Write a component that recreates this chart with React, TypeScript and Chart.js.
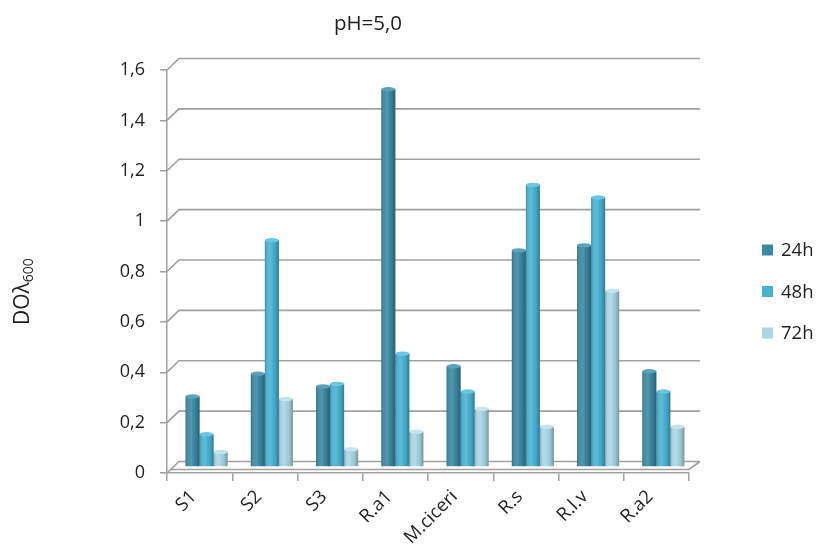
import React, { useEffect, useRef } from 'react';
import { Chart, registerables } from 'chart.js';

Chart.register(...registerables);

// ---- data ----
const categories = ['S1', 'S2', 'S3', 'R.a1', 'M.ciceri', 'R.s', 'R.l.v', 'R.a2'];
const series24h = [0.28, 0.37, 0.32, 1.5, 0.4, 0.86, 0.88, 0.38];
const series48h = [0.13, 0.9, 0.33, 0.45, 0.3, 1.12, 1.07, 0.3];
const series72h = [0.06, 0.27, 0.07, 0.14, 0.23, 0.16, 0.7, 0.16];
const seriesLabels = ['24h', '48h', '72h'];
const seriesColors = ['#3a89a3', '#48b2d3', '#a9d5e5'];
const capColors = ['#58a3bb', '#6cc5e2', '#c4e4ef'];
const yTickValues = [0, 0.2, 0.4, 0.6, 0.8, 1, 1.2, 1.4, 1.6];
const titleText = 'pH=5,0';
const yTitleMain = 'DOλ';
const yTitleSub = '600';

// ---- styling ----
const FONT = "'Open Sans', sans-serif";
const TEXT = '#1f1f1f';
const GRID = '#a0a0a0';
const BACK_DX = 12; // front -> back wall offset
const BACK_DY = 11.5;
const BAR_DX = 7; // bars sit half-way in depth
const BAR_DY = -6;

const fmt = (v: number) => (v === 0 ? '0' : String(+v.toFixed(1)).replace('.', ','));

const wallPlugin = {
  id: 'wall3d',
  beforeDatasetsDraw(chart: any) {
    const { ctx, chartArea, scales } = chart;
    const { left, right, bottom } = chartArea;
    const y = scales.y;
    ctx.save();
    ctx.strokeStyle = GRID;
    ctx.lineWidth = 1.7;
    for (const v of yTickValues) {
      const py = y.getPixelForValue(v);
      ctx.beginPath();
      ctx.moveTo(left, py);
      ctx.lineTo(left + BACK_DX, py - BACK_DY);
      ctx.lineTo(right + BACK_DX - 1, py - BACK_DY);
      ctx.stroke();
    }
    // floor front edge & right side
    const fy = bottom - 3.5;
    ctx.beginPath();
    ctx.moveTo(left + 4, fy);
    ctx.lineTo(right, fy);
    ctx.lineTo(right + BACK_DX - 1, bottom - BACK_DY);
    ctx.stroke();
    ctx.restore();
    ctx.save();
    ctx.translate(BAR_DX, BAR_DY);
  },
  afterDatasetsDraw(chart: any) {
    const { ctx } = chart;
    chart.data.datasets.forEach((_ds: any, i: number) => {
      const meta = chart.getDatasetMeta(i);
      meta.data.forEach((bar: any) => {
        const { x, y, base, width } = bar.getProps(['x', 'y', 'base', 'width'], true);
        const l = x - width / 2;
        const g = ctx.createLinearGradient(l, 0, l + width, 0);
        g.addColorStop(0, 'rgba(0,0,0,0.22)');
        g.addColorStop(0.22, 'rgba(255,255,255,0.06)');
        g.addColorStop(0.42, 'rgba(255,255,255,0.12)');
        g.addColorStop(0.7, 'rgba(0,0,0,0.05)');
        g.addColorStop(1, 'rgba(0,0,0,0.3)');
        ctx.fillStyle = g;
        ctx.fillRect(l, y, width, base - y);
        ctx.beginPath();
        ctx.ellipse(x, y, width / 2, 2.2, 0, 0, Math.PI * 2);
        ctx.fillStyle = capColors[i];
        ctx.fill();
      });
    });
    ctx.restore();
  },
  afterDraw(chart: any) {
    const { ctx } = chart;
    ctx.save();
    ctx.fillStyle = TEXT;
    // title
    ctx.font = `20.5px ${FONT}`;
    ctx.textAlign = 'center';
    ctx.textBaseline = 'alphabetic';
    ctx.fillText(titleText, 368, 30);
    // y axis title
    ctx.save();
    ctx.translate(29, 325);
    ctx.rotate(-Math.PI / 2);
    ctx.textAlign = 'left';
    ctx.font = `21px ${FONT}`;
    ctx.fillText(yTitleMain, 0, 0);
    const w = ctx.measureText(yTitleMain).width;
    ctx.font = `14px ${FONT}`;
    ctx.fillText(yTitleSub, w, 4);
    ctx.restore();
    // legend
    ctx.font = `18.5px ${FONT}`;
    ctx.textAlign = 'left';
    ctx.textBaseline = 'middle';
    chart.data.datasets.forEach((ds: any, i: number) => {
      const cy = 250 + i * 41.5;
      ctx.fillStyle = ds.backgroundColor;
      ctx.fillRect(762, cy - 5.5, 11, 11);
      ctx.fillStyle = TEXT;
      ctx.fillText(ds.label, 781, cy + 1);
    });
    ctx.restore();
  },
};

export default function App() {
  const ref = useRef<HTMLCanvasElement>(null);
  useEffect(() => {
    const seriesData = [series24h, series48h, series72h];
    const chart = new Chart(ref.current as HTMLCanvasElement, {
      type: 'bar',
      data: {
        labels: categories,
        datasets: seriesData.map((d, i) => ({
          label: seriesLabels[i],
          data: d,
          backgroundColor: seriesColors[i],
          borderWidth: 0,
          barPercentage: 1,
          categoryPercentage: 0.645,
        })),
      },
      options: {
        responsive: false,
        animation: false,
        layout: { padding: { top: 70, right: 130, left: 0, bottom: 0 } },
        plugins: {
          legend: { display: false },
          title: { display: false },
          tooltip: { enabled: false },
        },
        scales: {
          x: {
            type: 'category',
            offset: true,
            grid: { display: true, drawOnChartArea: false, offset: true, tickLength: 8, color: GRID, lineWidth: 1.5 },
            border: { display: true, color: GRID, width: 1.5 },
            ticks: {
              minRotation: 45,
              maxRotation: 45,
              autoSkip: false,
              padding: 5,
              labelOffset: -6,
              color: TEXT,
              font: { family: FONT, size: 18.5 },
            },
            afterFit: (s: any) => {
              s.height = 82;
            },
          },
          y: {
            min: 0,
            max: 1.6,
            ticks: {
              stepSize: 0.2,
              padding: 15,
              color: TEXT,
              font: { family: FONT, size: 18 },
              callback: (v: any) => fmt(Number(v)),
            },
            grid: { display: true, drawOnChartArea: false, tickLength: 7, color: GRID, lineWidth: 1.5 },
            border: { display: true, color: GRID, width: 1.5 },
            afterFit: (s: any) => {
              s.width = 167;
            },
          },
        },
      },
      plugins: [wallPlugin],
    } as any);
    return () => chart.destroy();
  }, []);
  return (
    <div style={{ position: 'fixed', left: 0, top: 0, width: 819, height: 555, background: '#fff' }}>
      <canvas ref={ref} width={819} height={555} style={{ display: 'block', width: 819, height: 555 }} />
    </div>
  );
}
